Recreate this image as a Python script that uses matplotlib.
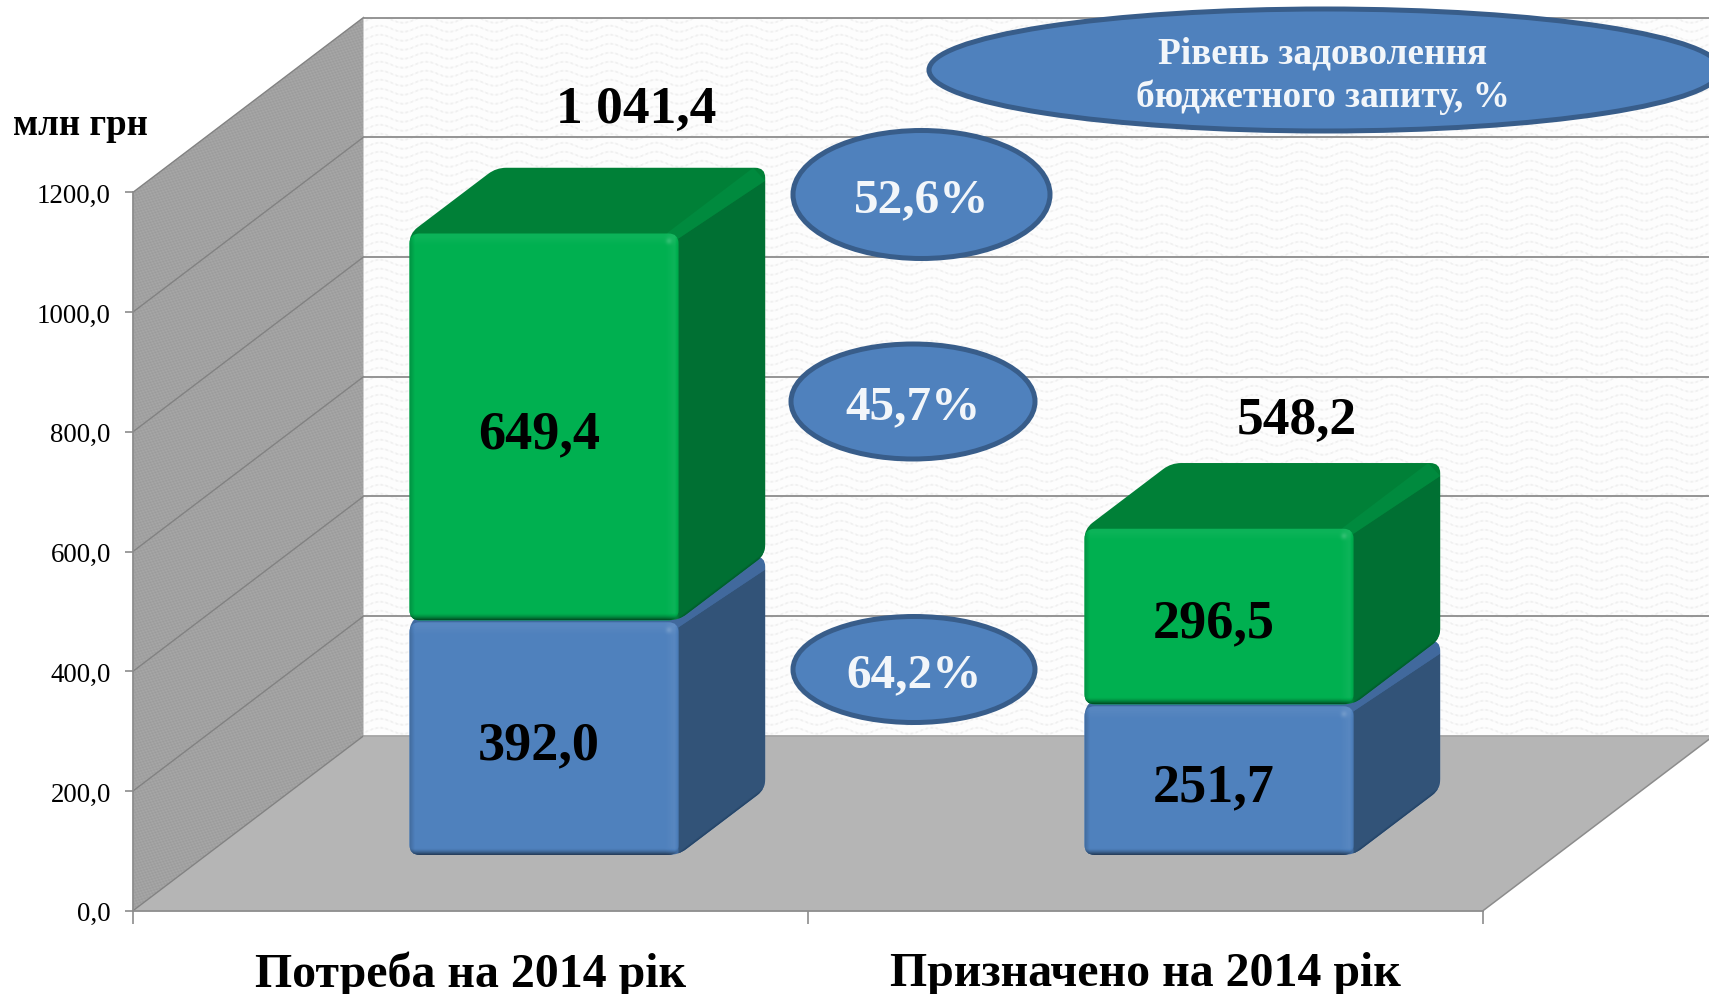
import numpy as np
import matplotlib
matplotlib.use("Agg")
import matplotlib.pyplot as plt
from matplotlib.patches import PathPatch, Polygon, Ellipse
from matplotlib.path import Path
from matplotlib.transforms import Affine2D

# ---- data ----
categories = ["Потреба на 2014 рік", "Призначено на 2014 рік"]
lower_values = [392.0, 251.7]
upper_values = [649.4, 296.5]
totals = [1041.4, 548.2]
total_labels = ["1 041,4", "548,2"]
y_ticks = [0, 200, 400, 600, 800, 1000, 1200]
ratio_values = [52.6, 45.7, 64.2]
legend_lines = ["Рівень задоволення", "бюджетного запиту, %"]
unit_label = "млн грн"

# ---- geometry ----
W, H = 1709, 995
SX, SY = 675.0, 718.4 / 1200      # pixels per category, pixels per value
X0, Y0 = 133.0, 911.7             # pixel of (0, 0)
DX, DY = 230.5 / SX, 174.8 / SY   # full chart depth in data units
BAR_W, D0, D1 = 0.3985, 0.319, 0.695
TOP_INSET = 2.0 / SY
FONT = "Liberation Serif"

BLUE = dict(front="#4f81bd", side="#325378", top="#3f6a9f", strip="#41699d", dark="#1d3b5c")
GREEN = dict(front="#00b050", side="#007033", top="#008037", strip="#008a3e", dark="#00502a")

fig = plt.figure(figsize=(W / 100, H / 100), dpi=100, facecolor="white")
ax = fig.add_axes([0, 0, 1, 1])
xlim = (-X0 / SX, (W - X0) / SX)
ylim = ((Y0 - H) / SY, Y0 / SY)
ax.set_facecolor("white")
px = Affine2D().scale(1, -1).translate(0, H)   # figure pixels, y down


def P(c, v, d=0.0):
    return (c + d * DX, v + d * DY)


def rounded(pts, r):
    pts = [np.array(p, float) for p in pts]
    n = len(pts)
    verts, codes = [], []
    scale = np.array([SX, SY])
    for i, v in enumerate(pts):
        a, b = pts[i - 1], pts[(i + 1) % n]
        ua = (a - v) / np.linalg.norm((a - v) * scale)
        ub = (b - v) / np.linalg.norm((b - v) * scale)
        verts += [v + ua * r, v, v + ub * r]
        codes += [Path.MOVETO if i == 0 else Path.LINETO, Path.CURVE3, Path.CURVE3]
    verts.append(verts[0])
    codes.append(Path.CLOSEPOLY)
    return Path(np.array(verts), codes)


def textured(poly, arr, extent, z):
    patch = Polygon(poly, closed=True, fc="none", ec="none", zorder=z)
    ax.add_patch(patch)
    im = ax.imshow(arr, extent=extent, origin="upper", aspect="auto", cmap="gray",
                   vmin=0, vmax=255, zorder=z, interpolation="nearest")
    im.set_clip_path(patch)


# ---- walls and floor ----
yy, xx = np.mgrid[0:H, 0:W]
wave = yy + 3.0 * np.sin(2 * np.pi * xx / 46.0)
back_tex = 253 - 30 * np.clip(np.sin(2 * np.pi * wave / 9.0) - 0.5, 0, 1) * (0.6 + 0.4 * np.sin(2 * np.pi * xx / 5.0))
side_tex = 161 + 7 * np.sin(2 * np.pi * (xx + 0.5 * yy) / 5.0) * np.sin(2 * np.pi * (yy - 0.4 * xx) / 4.0)
full = (xlim[0], xlim[1], ylim[0], ylim[1])
top_v = y_ticks[-1]
textured([P(0, 0, 1), P(2, 0, 1), P(2, top_v, 1), P(0, top_v, 1)], back_tex, full, 1)
textured([P(0, 0), P(0, 0, 1), P(0, top_v, 1), P(0, top_v)], side_tex, full, 1)
ax.add_patch(Polygon([P(0, 0), P(2, 0), P(2, 0, 1), P(0, 0, 1)], closed=True, fc="#b5b5b5", ec="none", zorder=2))

for v in y_ticks:
    xs, ys = zip(P(0, v), P(0, v, 1))
    ax.plot(xs, ys, color="#828282", lw=1.0, zorder=3)
    xs, ys = zip(P(0, v, 1), P(2, v, 1))
    ax.plot(xs, ys, color="#a6a6a6" if v == 0 else "#8c8c8c", lw=1.3, zorder=3)
xs, ys = zip(P(2, 0), P(2, 0, 1))
ax.plot(xs, ys, color="#8c8c8c", lw=1.1, zorder=3)


# ---- bars ----
def bevel_image(w_px, h_px):
    yi, xi = np.mgrid[0:h_px, 0:w_px] + 0.5
    dl, dr = xi, w_px - xi
    dt, db = yi, h_px - yi
    d = np.zeros((h_px, w_px))
    d += 0.05 * np.clip((14 - dr) / 9, 0, 1)
    d += 0.05 * np.clip((13 - dt) / 9, 0, 1)
    d += 0.14 * np.exp(-(((dr - 10) / 3.0) ** 2 + ((dt - 8) / 3.0) ** 2))
    d -= 0.16 * np.clip((5 - dl) / 5, 0, 1)
    d -= 0.14 * np.clip((4 - dr) / 4, 0, 1)
    d -= 0.60 * np.clip((7 - db) / 7, 0, 1) ** 1.6
    rgba = np.zeros((h_px, w_px, 4))
    rgba[..., :3] = (d > 0)[..., None] * 1.0
    rgba[..., 3] = np.abs(d)
    return rgba


def draw_segment(c, bottom, height, colors, z):
    top = bottom + height - TOP_INSET
    xl, xr = c - BAR_W / 2, c + BAR_W / 2
    r = 10.0
    # silhouette that rounds and clips the faces
    hull_pts = [P(xl, bottom, D0), P(xr, bottom, D0), P(xr, bottom, D1),
                P(xr, top, D1), P(xl, top, D1), P(xl, top, D0)]
    hull = PathPatch(rounded(hull_pts, r), fc=colors["top"], ec="none", zorder=z)
    ax.add_patch(hull)
    # side face
    side = Polygon([P(xr, bottom, D0), P(xr, bottom, D1), P(xr, top - 13 / SY, D1), P(xr, top - 5 / SY, D0)],
                   closed=True, fc=colors["side"], ec="none", zorder=z + 0.1)
    ax.add_patch(side)
    side.set_clip_path(hull)
    # lit band running along the upper right edge
    band = Polygon([P(xr - 12 / SX, top, D0), P(xr - 12 / SX, top, D1), P(xr, top - 13 / SY, D1), P(xr, top - 5 / SY, D0)],
                   closed=True, fc=colors["strip"], ec="none", zorder=z + 0.1)
    ax.add_patch(band)
    band.set_clip_path(hull)
    # soft dark lower edge of the side
    for lw, alpha in ((3.0, 0.25), (1.5, 0.45)):
        xs, ys = zip(P(xr, bottom, D0), P(xr, bottom, D1))
        ln, = ax.plot(xs, ys, color=colors["dark"], lw=lw, alpha=alpha, zorder=z + 0.15)
        ln.set_clip_path(hull)
    # front face
    front_pts = [P(xl, bottom, D0), P(xr, bottom, D0), P(xr, top, D0), P(xl, top, D0)]
    front = PathPatch(rounded(front_pts, r), fc=colors["front"], ec="none", zorder=z + 0.2)
    ax.add_patch(front)
    (ex0, ey0), (ex1, ey1) = P(xl, bottom, D0), P(xr, top, D0)
    im = ax.imshow(bevel_image(int(BAR_W * SX), int((top - bottom) * SY)), extent=(ex0, ex1, ey0, ey1),
                   origin="upper", aspect="auto", zorder=z + 0.3, interpolation="bilinear")
    im.set_clip_path(front)


centers = [0.5, 1.5]
for i, c in enumerate(centers):
    draw_segment(c, 0, lower_values[i], BLUE, 4 + i)
    draw_segment(c, lower_values[i], upper_values[i], GREEN, 4.5 + i)


def comma(v):
    return f"{v:.1f}".replace(".", ",")


lab_kw = dict(ha="center", va="center", family=FONT, weight="bold", fontsize=39, color="black", zorder=8)
for i, c in enumerate(centers):
    x, y = P(c, lower_values[i] / 2, D0)
    ax.text(x - 5 / SX, y - 8 / SY, comma(lower_values[i]), **lab_kw)
    x, y = P(c, lower_values[i] + upper_values[i] / 2, D0)
    ax.text(x - 5 / SX, y - 8 / SY, comma(upper_values[i]), **lab_kw)

# totals
total_pos = [(636, 110), (1297, 421)]
for lab, pos in zip(total_labels, total_pos):
    ax.text(pos[0], pos[1], lab, transform=px, ha="center", va="center", family=FONT,
            weight="bold", fontsize=38.5, color="black", zorder=8)

# ---- ellipses ----
ell_txt = "#f2f6fa"
pills = [(921.5, 195.5, 257, 128), (913, 402.5, 244, 115), (914, 670.5, 242, 106)]
for val, (cx, cy, w, h) in zip(ratio_values, pills):
    ax.add_patch(Ellipse((cx, cy), w, h, transform=px, fc="#4f81bd", ec="#385d8a", lw=3.6, zorder=7))
    ax.text(cx, cy + 5, comma(val) + "%", transform=px, ha="center", va="center", family=FONT,
            weight="bold", fontsize=35.5, color=ell_txt, zorder=8)

ax.add_patch(Ellipse((1325, 71), 792, 122, transform=px, fc="#4f81bd", ec="#385d8a", lw=3.6, zorder=7))
for line, yl in zip(legend_lines, (54, 97)):
    ax.text(1323, yl, line, transform=px, ha="center", va="center", family=FONT,
            weight="bold", fontsize=26.8, color=ell_txt, zorder=8)

ax.text(80, 126, unit_label, transform=px, ha="center", va="center", family=FONT,
        weight="bold", fontsize=26.6, color="black", zorder=8)

# ---- axes ----
ax.set_xlim(*xlim)
ax.set_ylim(*ylim)
for s in ("top", "right"):
    ax.spines[s].set_visible(False)
for s in ("left", "bottom"):
    ax.spines[s].set_position(("data", 0))
    ax.spines[s].set_color("#8c8c8c")
    ax.spines[s].set_linewidth(1.3)
    ax.spines[s].set_zorder(3.5)
ax.spines["left"].set_bounds(0, top_v)
ax.spines["bottom"].set_bounds(0, 2)
ax.set_yticks(y_ticks)
ax.set_yticklabels([comma(v) for v in y_ticks], family=FONT, fontsize=19.4, color="black")
ax.tick_params(axis="y", which="major", direction="out", length=5.5, width=1.2, color="#8c8c8c", pad=10.5)
ax.set_xticks([0, 1, 2])
ax.set_xticklabels(["", "", ""])
ax.tick_params(axis="x", which="major", direction="out", length=9.4, width=1.2, color="#8c8c8c")
ax.set_xticks(centers, minor=True)
ax.set_xticklabels(categories, minor=True, family=FONT, weight="bold", fontsize=34.5, color="black")
ax.tick_params(axis="x", which="minor", length=0, pad=29)

fig.savefig("out.png", dpi=100, facecolor="white")
